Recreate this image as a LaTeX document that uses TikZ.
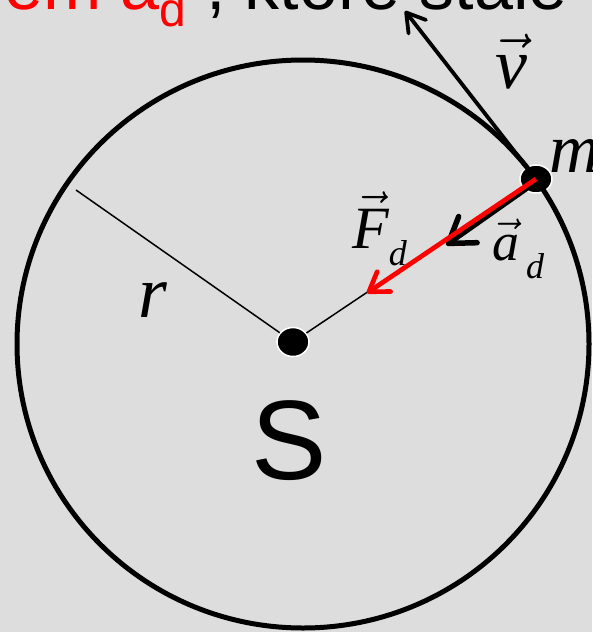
\RequirePackage{fix-cm}
\documentclass[tikz,border=0pt]{standalone}
\usepackage{amsmath}
\usepackage{fontspec}
\setmainfont{Liberation Serif}
\setsansfont{Liberation Sans}
\usetikzlibrary{arrows.meta,positioning,shapes.geometric}
\definecolor{slide}{HTML}{DDDDDD}
\definecolor{accred}{HTML}{FF0000}

\begin{document}
\begin{tikzpicture}[x=1pt,y=-1pt]
\fill[slide] (0,0) rectangle (592,632);
\useasboundingbox (0,0) rectangle (592,632);
\tikzset{dot/.style={ellipse, fill=black, draw=white, line width=1.5pt, inner sep=0pt, minimum width=32pt, minimum height=29pt},
  thinline/.style={line width=1.5pt},
  lbl/.style={inner sep=0pt, font=\itshape}}
% title line, cut at the top edge
\node[anchor=base west,inner sep=0pt,text=accred,font=\sffamily\fontsize{70}{84}\selectfont] (title) at (-420,9) {przyspieszeniem a\raisebox{-17pt}{\fontsize{48}{48}\selectfont d}\ \textcolor{black}{, które stale}};
% points
\coordinate (rim) at (76,190);
\coordinate (vtip) at (405,11);
\coordinate (ftip) at (367,293);
\coordinate (atip) at (446,245);
\node[dot] (ctr) at (293,342) {};
\node[dot,minimum height=28pt] (mass) at (536,179) {};
\draw[thinline] (ctr) -- (rim);
\draw[thinline] (ctr) -- (mass);
\draw[line width=5pt] (303,344) circle [x radius=286pt, y radius=284pt];
% vectors
\draw[line width=3.8pt,-{Straight Barb[length=18pt,width=22pt,round]}] (mass.center) -- (vtip);
\draw[line width=5.5pt,-{Straight Barb[length=24pt,width=32pt,round]}] ([shift={(1,2)}]mass.center) -- (atip);
\draw[accred,line width=4.7pt,-{Straight Barb[length=18pt,width=24pt,round]}] (mass.center) -- (ftip);
% labels
\node[lbl,anchor=base,font=\fontsize{72}{72}\selectfont] (vlab) at (511,88) {$\vec{\text{\itshape v}}$};
\node[lbl,anchor=base west,font=\itshape\fontsize{70}{70}\selectfont] (mlab) at (549,172) {m};
\node[lbl,anchor=base west,font=\fontsize{60}{60}\selectfont] (flab) at (352,248) {$\vec{\text{\itshape F}}$\raisebox{-17pt}{\fontsize{36}{36}\selectfont\itshape d}};
\node[lbl,anchor=base west,font=\fontsize{54}{54}\selectfont] (alab) at (492,260) {$\vec{\text{\itshape a}}$\hspace{7pt}\raisebox{-18pt}{\fontsize{36}{36}\selectfont\itshape d}};
\node[lbl,anchor=base west,font=\itshape\fontsize{74}{74}\selectfont] (rlab) at (138,317) {r};
\node[anchor=base,inner sep=0pt,font=\sffamily\fontsize{113}{113}\selectfont] (slab) at (289,479) {S};
\end{tikzpicture}
\end{document}
